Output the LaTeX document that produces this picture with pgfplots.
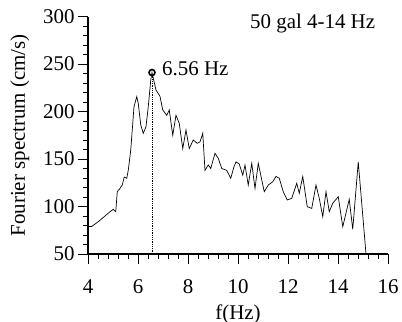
\documentclass[border=0pt]{standalone}
\usepackage{pgfplots}
\pgfplotsset{compat=1.18}
\usepackage{fontspec}
\setmainfont{Liberation Serif}
\begin{document}
\begin{tikzpicture}
\useasboundingbox (-88bp,-68bp) rectangle (314bp,254bp);
\begin{axis}[
  at={(0,0)}, anchor=south west,
  scale only axis,
  width=300bp, height=237.5bp,
  xmin=4, xmax=16, ymin=50, ymax=300,
  axis x line*=bottom, axis y line*=left,
  axis line style={line width=1.3pt},
  xtick={4,6,...,16}, ytick={50,100,...,300},
  minor x tick num=4, minor y tick num=4,
  tick align=outside,
  major tick length=10bp, minor tick length=5bp,
  tick style={line width=1pt,black},
  /pgf/number format/assume math mode=true,
  ticklabel style={font=\fontsize{21}{25}\selectfont},
  xticklabel style={yshift=-12bp},
  xlabel={f(Hz)}, ylabel={Fourier spectrum (cm/s)},
  label style={font=\fontsize{21}{25}\selectfont},
  xlabel style={yshift=-4bp},
  ylabel style={yshift=7bp},
  clip=false,
]
\addplot[black, line width=0.7pt] coordinates {
(4.01,79) (4.15,79) (4.41,84) (4.68,90) (4.88,94.5) (5.01,97) (5.11,94.5)
(5.17,115.6) (5.28,119) (5.37,122.6) (5.45,131) (5.55,129.7) (5.61,138)
(5.71,159.5) (5.84,205) (5.95,215.6) (6.01,208.6) (6.11,185.8) (6.21,177)
(6.32,184) (6.41,205) (6.51,233) (6.56,241) (6.72,222.6) (6.88,216)
(6.99,201.6) (7.15,196) (7.25,201.6) (7.39,175) (7.52,196) (7.65,187.6)
(7.79,161) (7.92,180.5) (8.05,161) (8.21,170) (8.37,166.5) (8.48,168)
(8.59,177) (8.68,138) (8.81,143.7) (8.91,140) (9.08,156) (9.21,150.7)
(9.35,140) (9.55,138) (9.71,129.7) (9.84,142) (9.92,147) (10.05,144.7)
(10.19,133) (10.28,143.7) (10.41,122.6) (10.55,145.5) (10.68,119)
(10.81,145.5) (11.05,115.6) (11.21,122.6) (11.39,126) (11.52,131.6)
(11.65,129.8) (11.81,115.6) (11.97,106.8) (12.15,108.6) (12.35,124.4)
(12.45,113.9) (12.59,131.6) (12.77,99.8) (12.95,98) (13.12,122.6)
(13.25,108.6) (13.39,89.3) (13.52,115.6) (13.65,94.5) (13.79,103.4)
(14.01,110.3) (14.19,78.7) (14.45,107.5) (14.59,76) (14.81,147) (15.12,50)
};
\addplot[black, densely dotted, line width=0.8pt] coordinates {(6.56,50) (6.56,238)};
\addplot[black, only marks, mark=o, mark size=3bp, line width=1.6pt] coordinates {(6.56,241)};
\node[anchor=west, inner sep=0pt, font=\fontsize{21}{25}\selectfont] at (axis cs:6.96,245.5) {6.56 Hz};
\node[anchor=west, inner sep=0pt, font=\fontsize{21}{25}\selectfont] at (axis cs:10.48,293) {50 gal 4-14 Hz};
\end{axis}
\end{tikzpicture}
\end{document}
